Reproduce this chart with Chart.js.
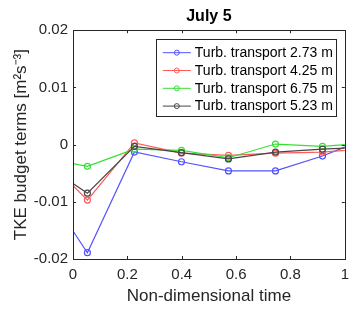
<!DOCTYPE html>
<html>
<head>
<meta charset="utf-8">
<script src="https://cdn.jsdelivr.net/npm/chart.js@4/dist/chart.umd.min.js"></script>
<style>
  html, body { margin: 0; padding: 0; background: #fff; }
  canvas { display: block; }
</style>
</head>
<body>
<canvas id="c" width="350" height="313"></canvas>
<script>
// non-dimensional time of each sample (first and last fall just outside the axes)
const TEMPS = [-0.12, 0.053, 0.226, 0.399, 0.572, 0.745, 0.918, 1.091];

const SERIES_LABELS = [
  'Turb. transport 2.73 m',
  'Turb. transport 4.25 m',
  'Turb. transport 6.75 m',
  'Turb. transport 5.23 m',
];

const TRANSPORT_273 = [-0.0065, -0.0189, -0.0013, -0.0030, -0.0046, -0.0046, -0.0020, 0.0013];
const TRANSPORT_425 = [-0.0015, -0.0097, 0.0003, -0.0015, -0.0019, -0.0015, -0.0013, -0.0007];
const TRANSPORT_675 = [-0.0022, -0.0038, -0.0008, -0.0010, -0.0023, 0.0001, -0.0003, 0.0003];
const TRANSPORT_523 = [-0.0030, -0.0085, -0.0003, -0.0014, -0.0025, -0.0013, -0.0008, -0.0004];

const COULEURS = ['#5252ff', '#ff5a5a', '#35e035', '#474747'];

const Y_TICKS = [-0.02, -0.01, 0, 0.01, 0.02];
const X_TICKS = [0, 0.2, 0.4, 0.6, 0.8, 1];

const AXE = '#262626';
const POLICE = '"Liberation Sans", Arial, sans-serif';

function points(valeurs) {
  return TEMPS.map((t, i) => ({ x: t, y: valeurs[i] }));
}

// box around the axes + inward tick marks on all four sides
const cadre = {
  id: 'cadre',
  afterDatasetsDraw(chart) {
    const { ctx, chartArea: a, scales } = chart;
    ctx.save();
    ctx.strokeStyle = AXE;
    ctx.lineWidth = 1;
    ctx.beginPath();
    X_TICKS.forEach((v) => {
      const x = Math.round(scales.x.getPixelForValue(v)) + 0.5;
      ctx.moveTo(x, a.bottom); ctx.lineTo(x, a.bottom - 3);
      ctx.moveTo(x, a.top); ctx.lineTo(x, a.top + 3);
    });
    Y_TICKS.forEach((v) => {
      const y = Math.round(scales.y.getPixelForValue(v)) + 0.5;
      ctx.moveTo(a.left, y); ctx.lineTo(a.left + 3, y);
      ctx.moveTo(a.right, y); ctx.lineTo(a.right - 3, y);
    });
    ctx.stroke();
    ctx.strokeRect(Math.round(a.left) + 0.5, Math.round(a.top) + 0.5,
      Math.round(a.right - a.left), Math.round(a.bottom - a.top));
    ctx.restore();
  },
};

// MATLAB-style legend box inside the top right corner
const legende = {
  id: 'legende',
  afterDraw(chart) {
    const { ctx, chartArea: a } = chart;
    ctx.save();
    ctx.font = '14px ' + POLICE;
    const largeurTexte = Math.max(...SERIES_LABELS.map((l) => ctx.measureText(l).width));
    const ligne = 28, gap = 4, padG = 7, padD = 3;
    const w = padG + ligne + gap + largeurTexte + padD;
    const h = 77;
    const right = a.right - 9;
    const left = right - w;
    const top = a.top + 9;
    ctx.fillStyle = '#fff';
    ctx.fillRect(left, top, w, h);
    ctx.strokeStyle = AXE;
    ctx.lineWidth = 1;
    ctx.strokeRect(Math.round(left) + 0.5, Math.round(top) + 0.5, Math.round(w), h);
    SERIES_LABELS.forEach((label, i) => {
      const y = top + 13.5 + i * 17.8;
      const x0 = left + padG;
      ctx.strokeStyle = COULEURS[i];
      ctx.beginPath();
      ctx.moveTo(x0, y); ctx.lineTo(x0 + ligne, y);
      ctx.stroke();
      ctx.beginPath();
      ctx.arc(x0 + ligne / 2, y, 2.5, 0, Math.PI * 2);
      ctx.stroke();
      ctx.fillStyle = '#000';
      ctx.textBaseline = 'middle';
      ctx.fillText(label, x0 + ligne + gap, y + 0.5);
    });
    ctx.restore();
  },
};

const series = [TRANSPORT_273, TRANSPORT_425, TRANSPORT_675, TRANSPORT_523];

new Chart(document.getElementById('c'), {
  type: 'line',
  data: {
    datasets: series.map((valeurs, i) => ({
      label: SERIES_LABELS[i],
      data: points(valeurs),
      borderColor: COULEURS[i],
      borderWidth: 1.2,
      pointRadius: 3,
      pointBorderWidth: 1.2,
      pointBorderColor: COULEURS[i],
      pointBackgroundColor: 'rgba(0,0,0,0)',
      tension: 0,
      order: series.length - i,
    })),
  },
  options: {
    responsive: false,
    animation: false,
    devicePixelRatio: 1,
    layout: { padding: { left: 0, right: 2, top: 0, bottom: 0 } },
    plugins: {
      legend: { display: false },
      tooltip: { enabled: false },
      title: {
        display: true,
        text: 'July 5',
        fullSize: false,
        color: '#000',
        font: { family: POLICE, size: 16, weight: 'bold' },
        padding: { top: 7, bottom: 4 },
      },
    },
    scales: {
      x: {
        type: 'linear',
        min: 0,
        max: 1,
        afterBuildTicks: (s) => { s.ticks = X_TICKS.map((v) => ({ value: v })); },
        afterFit: (s) => { s.height = 54; s.paddingLeft = 0; s.paddingRight = 0; },
        grid: { display: false, drawTicks: false },
        border: { display: false },
        ticks: {
          color: AXE,
          font: { family: POLICE, size: 15 },
          padding: 7,
          maxRotation: 0,
          callback: (v) => String(Math.round(v * 10) / 10),
        },
        title: {
          display: true,
          text: 'Non-dimensional time',
          color: AXE,
          font: { family: POLICE, size: 17 },
          padding: { top: 2, bottom: 6 },
        },
      },
      y: {
        min: -0.02,
        max: 0.02,
        afterBuildTicks: (s) => { s.ticks = Y_TICKS.map((v) => ({ value: v })); },
        afterFit: (s) => { s.width = 73; s.paddingTop = 0; s.paddingBottom = 0; },
        grid: { display: false, drawTicks: false },
        border: { display: false },
        ticks: {
          color: AXE,
          font: { family: POLICE, size: 15 },
          padding: 5,
          callback: (v) => String(Math.round(v * 100) / 100),
        },
        title: {
          display: true,
          text: 'TKE budget terms [m²s⁻³]',
          color: AXE,
          font: { family: POLICE, size: 17 },
          padding: { top: 11, bottom: 4 },
        },
      },
    },
  },
  plugins: [cadre, legende],
});
</script>
</body>
</html>
